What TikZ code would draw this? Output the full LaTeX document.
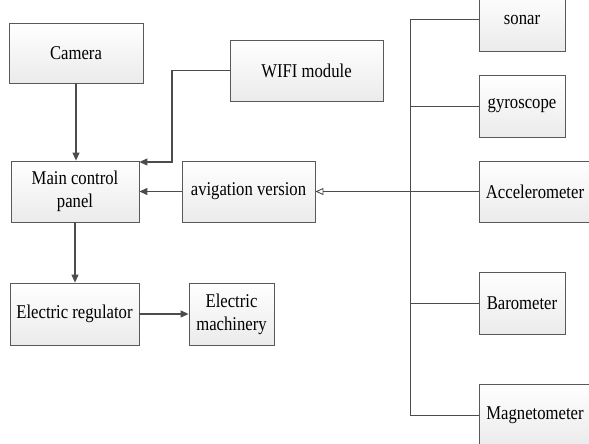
\documentclass[tikz,border=0pt]{standalone}
\usepackage{fontspec}
\setmainfont{Liberation Serif}[FakeStretch=0.855]
\usetikzlibrary{arrows.meta,shadows}
\begin{document}
\begin{tikzpicture}[x=1pt,y=-1pt,
  box/.style={draw=black!65, line width=0.8pt, rectangle, top color=white, bottom color=black!8,
    drop shadow={shadow xshift=1.2pt, shadow yshift=-1.2pt, fill=black, opacity=0.25},
    font=\fontsize{19.5}{23}\selectfont, align=center, inner sep=2pt},
  conn/.style={draw=black!70, line width=1.1pt},
  bus/.style={draw=black!70, line width=0.9pt},
  arr/.style={conn, -{Triangle[length=8pt,width=7pt]}},
  oarr/.style={bus, -{Triangle[open,length=8pt,width=7pt]}}]
\useasboundingbox (0,0) rectangle (589,444);
\node[box, minimum width=134pt, minimum height=60pt] (cam) at (76,53) {Camera};
\node[box, minimum width=153pt, minimum height=61pt] (wifi) at (306.5,70.5) {WIFI module};
\node[box, minimum width=128pt, minimum height=61pt] (main) at (75,191.5) {Main control\\panel};
\node[box, minimum width=133pt, minimum height=61pt] (avig) at (248.5,191.5) {avigation version};
\node[box, minimum width=129pt, minimum height=62pt] (ereg) at (74.5,314) {Electric regulator};
\node[box, minimum width=85pt, minimum height=62pt] (emach) at (231.5,314) {Electric\\machinery};
\node[box, minimum width=86pt, minimum height=61pt] (sonar) at (522,20.5) {sonar};
\node[box, minimum width=86pt, minimum height=62pt] (gyro) at (522,106) {gyroscope};
\node[box, minimum width=112pt, minimum height=61pt] (acc) at (535,191.5) {Accelerometer};
\node[box, minimum width=86pt, minimum height=62pt] (baro) at (522,303) {Barometer};
\node[box, minimum width=112pt, minimum height=62pt] (mag) at (535,415) {Magnetometer};
\coordinate (bt) at (410,19);
\coordinate (bb) at (410,415);
\coordinate (w1) at (172,162);
\draw[arr] (cam.south) -- (cam.south |- main.north);
\draw[arr] (main.south) -- (main.south |- ereg.north);
\draw[arr] (ereg.east) -- (emach.west);
\draw[arr] (avig.west) -- (main.east);
\draw[arr] (wifi.west) -| (w1) -- (w1 -| main.east);
\draw[bus] (bt) -- (bb);
\draw[bus] (sonar.west |- bt) -- (bt);
\draw[bus] (gyro.west) -- (gyro.west -| bt);
\draw[bus] (baro.west) -- (baro.west -| bt);
\draw[bus] (mag.west) -- (bb);
\draw[oarr] (acc.west) -- (avig.east);
\end{tikzpicture}
\end{document}
